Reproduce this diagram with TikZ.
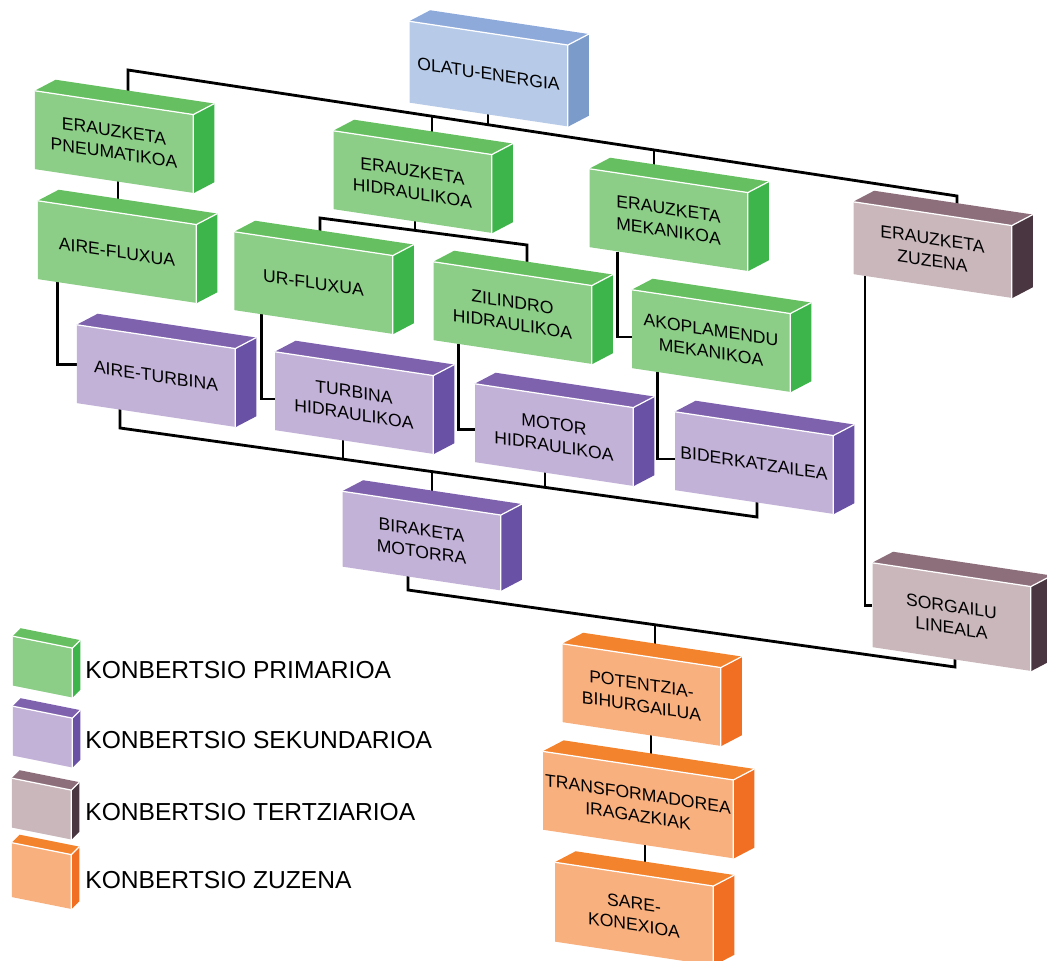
\documentclass[tikz,border=0pt]{standalone}
\usepackage{fontspec}
\setmainfont{Liberation Sans}
\usetikzlibrary{calc}
\pgfdeclarelayer{bg}
\pgfsetlayers{bg,main}

\definecolor{blueF}{HTML}{B7CBE8}
\definecolor{blueT}{HTML}{8EAADB}
\definecolor{blueS}{HTML}{7B9BCB}
\definecolor{greenF}{HTML}{8CCD87}
\definecolor{greenT}{HTML}{66BF60}
\definecolor{greenS}{HTML}{3DB54A}
\definecolor{purpleF}{HTML}{C3B2D8}
\definecolor{purpleT}{HTML}{7E62AD}
\definecolor{purpleS}{HTML}{6951A6}
\definecolor{mauveF}{HTML}{C9B7BC}
\definecolor{mauveT}{HTML}{8C6F7B}
\definecolor{mauveS}{HTML}{4A3640}
\definecolor{orangeF}{HTML}{F9B07F}
\definecolor{orangeT}{HTML}{F4832E}
\definecolor{orangeS}{HTML}{F06F22}

% top and side faces of a slanted block node
\newcommand{\boxfaces}[3][21,-11]{%
  \fill[#3T] (#2.north west) -- ++(#1) -- ([shift={(#1)}]#2.north east) -- (#2.north east) -- cycle;
  \fill[#3S] (#2.north east) -- ([shift={(#1)}]#2.north east) -- ([shift={(#1)}]#2.south east) -- (#2.south east) -- cycle;
  \draw[rim] (#2.north west) -- (#2.north east) -- (#2.south east) (#2.north east) -- ++(#1);}

\begin{document}
\begin{tikzpicture}[x=0.2mm, y=-0.2mm,
    block/.style={yslant=-0.15, minimum width=31.6mm, minimum height=15.6mm, inner sep=0pt,
      align=center, font=\fontsize{10}{12.5}\selectfont},
    src/.style={block, fill=blueF},
    prim/.style={block, fill=greenF},
    sek/.style={block, fill=purpleF},
    tert/.style={block, fill=mauveF},
    zuz/.style={block, fill=orangeF},
    legbox/.style={yslant=-0.2, minimum width=11.8mm, minimum height=9.8mm, inner sep=0pt},
    legtext/.style={anchor=west, inner sep=0pt, font=\fontsize{14}{16}\selectfont},
    rim/.style={white, line width=0.7pt},
    wire/.style={line width=1.6pt, black}]
    \useasboundingbox (0,0) rectangle (1047,961);

    % Olatu-energia
    \node[src, minimum height=16.2mm] (olatu) at (488.5,74) {OLATU-ENERGIA};
    \boxfaces{olatu}{blue}

    % Erauzketa
    \node[prim] (pneu) at (114,142) {ERAUZKETA\\PNEUMATIKOA};
    \boxfaces{pneu}{green}
    \node[prim] (erhid) at (412.5,182) {ERAUZKETA\\HIDRAULIKOA};
    \boxfaces{erhid}{green}
    \node[prim] (ermek) at (668.5,220) {ERAUZKETA\\MEKANIKOA};
    \boxfaces{ermek}{green}
    \node[tert, minimum height=14.4mm] (erzuz) at (932.5,250) {ERAUZKETA\\ZUZENA};
    \boxfaces{erzuz}{mauve}

    % Fluxuak
    \node[prim] (airefl) at (117,252) {AIRE-FLUXUA};
    \boxfaces{airefl}{green}
    \node[prim] (urfl) at (313.5,283) {UR-FLUXUA};
    \boxfaces{urfl}{green}
    \node[prim] (zilin) at (512.5,313) {ZILINDRO\\HIDRAULIKOA};
    \boxfaces{zilin}{green}
    \node[prim] (akopl) at (711,341) {AKOPLAMENDU\\MEKANIKOA};
    \boxfaces{akopl}{green}

    % Turbinak
    \node[sek] (aireturb) at (156,376) {AIRE-TURBINA};
    \boxfaces{aireturb}{purple}
    \node[sek] (turbh) at (354,403) {TURBINA\\HIDRAULIKOA};
    \boxfaces{turbh}{purple}
    \node[sek] (motorh) at (554,435) {MOTOR\\HIDRAULIKOA};
    \boxfaces{motorh}{purple}
    \node[sek] (biderk) at (754,463) {BIDERKATZAILEA};
    \boxfaces{biderk}{purple}
    \node[sek, minimum height=15mm] (biraketa) at (421.5,541) {BIRAKETA\\MOTORRA};
    \boxfaces{biraketa}{purple}
    \node[tert, minimum height=16.8mm] (sorgailu) at (951.5,617) {SORGAILU\\LINEALA};
    \boxfaces{sorgailu}{mauve}

    % Sarea
    \node[zuz] (potentzia) at (641.5,695) {POTENTZIA-\\BIHURGAILUA};
    \boxfaces{potentzia}{orange}
    \node[zuz, minimum width=38mm] (transf) at (638,805) {TRANSFORMADOREA\\IRAGAZKIAK};
    \boxfaces{transf}{orange}
    \node[zuz, minimum height=15.8mm] (sare) at (634,914) {SARE-\\KONEXIOA};
    \boxfaces{sare}{orange}

    % Legenda
    \node[legbox, fill=greenF] (kprim) at (42.5,667) {};
    \boxfaces[8,-8]{kprim}{green}
    \node[legtext] (kprimt) at (85,670) {KONBERTSIO PRIMARIOA};
    \node[legbox, fill=purpleF] (ksek) at (42.5,737) {};
    \boxfaces[8,-8]{ksek}{purple}
    \node[legtext] (ksekt) at (85,740) {KONBERTSIO SEKUNDARIOA};
    \node[legbox, fill=mauveF] (ktert) at (41.5,809) {};
    \boxfaces[8,-8]{ktert}{mauve}
    \node[legtext] (ktertt) at (85,812) {KONBERTSIO TERTZIARIOA};
    \node[legbox, fill=orangeF, minimum height=10.8mm] (kzuz) at (41.5,876) {};
    \boxfaces[8,-8]{kzuz}{orange}
    \node[legtext] (kzuzt) at (85,880) {KONBERTSIO ZUZENA};

    % Loturak
    \coordinate (b1) at (128,70);
    \coordinate (b2) at (957,196);
    \coordinate (jOl) at (488,124.7);
    \coordinate (jHid) at (432,116.2);
    \coordinate (jMek) at (654,150);
    \coordinate (jPn) at (118,200);
    \coordinate (h1) at (320,218);
    \coordinate (h2) at (527,245);
    \coordinate (jH) at (415,230.4);
    \coordinate (t1) at (120,428);
    \coordinate (t2) at (757,517);
    \coordinate (jT) at (343,459.2);
    \coordinate (jM) at (545,487.4);
    \coordinate (jB) at (432,471.6);
    \coordinate (g1) at (408,590);
    \coordinate (g2) at (955,667);
    \coordinate (jP) at (655,624.8);
    \coordinate (o1) at (651,740);
    \coordinate (o2) at (645,850);
    \begin{pgfonlayer}{bg}
        \draw[wire] (b1 |- pneu.center) -- (b1) -- (b2) -- (b2 |- erzuz.center);
        \draw[wire] (jOl |- olatu.center) -- (jOl);
        \draw[wire] (jHid) -- (jHid |- erhid.center);
        \draw[wire] (jMek) -- (jMek |- ermek.center);

        \draw[wire] (jPn |- pneu.center) -- (jPn |- airefl.center);
        \draw[wire] ($(airefl.south west)!0.125!(airefl.south east)$) |- (aireturb.west);
        \draw[wire] (h1 |- urfl.center) -- (h1) -- (h2) -- (h2 |- zilin.center);
        \draw[wire] (jH |- erhid.center) -- (jH);
        \draw[wire] ($(urfl.south west)!0.17!(urfl.south east)$) |- ($(turbh.north west)!0.6!(turbh.south west)$);
        \draw[wire] ($(zilin.south west)!0.16!(zilin.south east)$) |- ($(motorh.north west)!0.58!(motorh.south west)$);
        \draw[wire] ($(ermek.south west)!0.18!(ermek.south east)$) |- ($(akopl.north west)!0.6!(akopl.south west)$);
        \draw[wire] ($(akopl.south west)!0.165!(akopl.south east)$) |- ($(biderk.north west)!0.6!(biderk.south west)$);
        \draw[wire] ($(erzuz.south west)!0.075!(erzuz.south east)$) |- (sorgailu.west);

        \draw[wire] (t1 |- aireturb.center) -- (t1) -- (t2) -- (t2 |- biderk.center);
        \draw[wire] (jT |- turbh.center) -- (jT);
        \draw[wire] (jM |- motorh.center) -- (jM);
        \draw[wire] (jB) -- (jB |- biraketa.center);

        \draw[wire] (g1 |- biraketa.center) -- (g1) -- (g2) -- (g2 |- sorgailu.center);
        \draw[wire] (jP) -- (jP |- potentzia.center);
        \draw[wire] (o1 |- potentzia.center) -- (o1 |- transf.center);
        \draw[wire] (o2 |- transf.center) -- (o2 |- sare.center);
    \end{pgfonlayer}
\end{tikzpicture}
\end{document}
